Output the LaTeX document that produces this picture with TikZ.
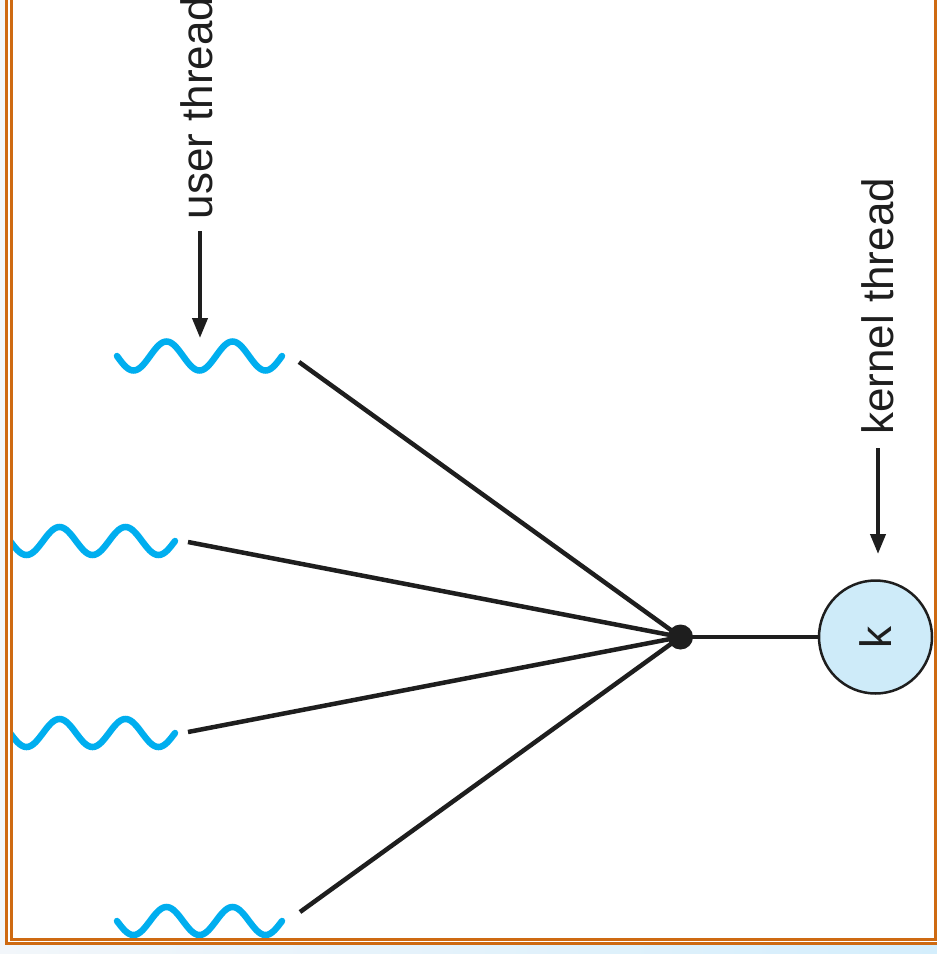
\documentclass[tikz,border=0pt]{standalone}
\usepackage{fontspec}
\setmainfont{Liberation Sans}
\usetikzlibrary{arrows.meta}
\definecolor{wavec}{RGB}{0,174,239}
\definecolor{framec}{RGB}{206,106,18}
\definecolor{kfill}{RGB}{206,235,249}
\definecolor{bgl}{RGB}{242,246,250}
\definecolor{bgb}{RGB}{212,238,252}
\definecolor{inkc}{RGB}{30,30,30}
\begin{document}
\begin{tikzpicture}[x=1pt,y=-1pt,
  wave/.style={wavec, line width=6.5pt, line cap=round},
  link/.style={inkc, line width=4.5pt},
  frameline/.style={framec, line width=3pt},
  lbl/.style={font=\fontsize{44}{44}\selectfont, rotate=90, anchor=base west, inner sep=0pt, text=inkc},
  pointer/.style={inkc, line width=4pt, -{Triangle[length=20pt,width=15pt]}},
  hubdot/.style={circle, fill=inkc, inner sep=0pt, minimum size=25pt},
  kthread/.style={circle, draw=inkc, line width=2.5pt, fill=kfill, inner sep=0pt, minimum size=113pt,
    font=\fontsize{44}{44}\selectfont, text=inkc}]
\useasboundingbox (0,0) rectangle (937,954);
% background
\fill[bgl] (0,0) rectangle (937,954);
\shade[left color=bgl, right color=bgb] (0,945) rectangle (937,954);
\fill[white] (8,-1) rectangle (938,942);
% user threads (waves)
\begin{scope}
  \clip (12.5,-1) rectangle (934,938);
  \draw[wave] plot[domain=0:900, samples=121, smooth] ({117+\x/360*66},{356+14.5*sin(\x)});
  \draw[wave] plot[domain=0:900, samples=121, smooth] ({10+\x/360*66},{541+14*sin(\x)});
  \draw[wave] plot[domain=0:900, samples=121, smooth] ({10+\x/360*66},{733+14*sin(\x)});
  \draw[wave] plot[domain=0:900, samples=121, smooth] ({117+\x/360*66},{921+14*sin(\x)});
\end{scope}
% frame
\draw[frameline] (6.5,-5) -- (6.5,943.5) -- (945,943.5);
\draw[frameline] (11.3,-5) -- (11.3,939.5) -- (935.5,939.5) -- (935.5,-5);
% nodes
\node[hubdot] (hub) at (680.5,637) {};
\node[kthread] (k) at (875.5,637) {\rotatebox{90}{k}};
\coordinate (w1) at (299,362);
\coordinate (w2) at (188,542);
\coordinate (w3) at (188,732);
\coordinate (w4) at (300,912);
% connectors
\draw[link] (w1) -- (hub.center);
\draw[link] (w2) -- (hub.center);
\draw[link] (w3) -- (hub.center);
\draw[link] (w4) -- (hub.center);
\draw[link] (hub.center) -- (k);
% labels
\node[lbl] (ulbl) at (212,219.5) {user thread};
\node[lbl] (klbl) at (893,435) {kernel thread};
\coordinate (ua) at (200,231);
\coordinate (ub) at (200,338);
\coordinate (ka) at (878,448);
\coordinate (kb) at (878,554);
\draw[pointer] (ua) -- (ub);
\draw[pointer] (ka) -- (kb);
\end{tikzpicture}
\end{document}
